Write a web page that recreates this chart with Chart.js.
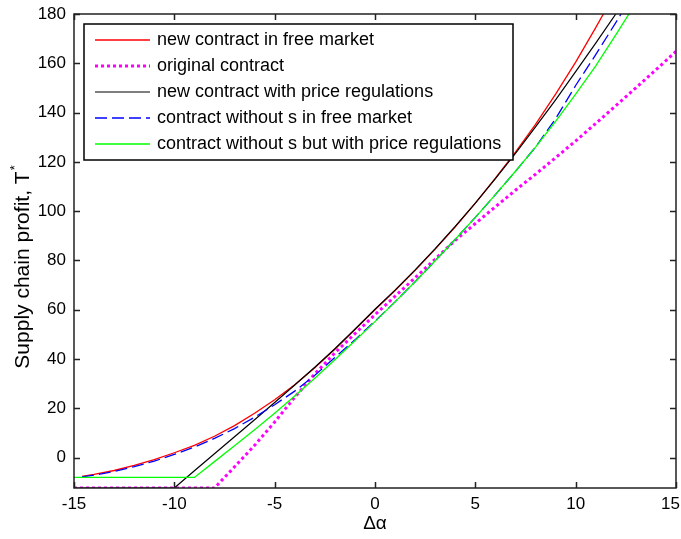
<!DOCTYPE html>
<html>
<head>
<meta charset="utf-8">
<script src="https://cdn.jsdelivr.net/npm/chart.js@4.4.0/dist/chart.umd.min.js"></script>
<style>
html, body { margin: 0; padding: 0; background: #fff; }
</style>
</head>
<body>
<canvas id="chart" width="681" height="539"></canvas>
<script>
// x positions (delta alpha)
var xValues = [-15, -14.6, -14, -13, -12, -11, -10, -9, -8, -7, -6, -5, -4, -3, -2, -1,
    0, 1, 2, 3, 4, 5, 6, 7, 8, 9, 10, 11, 12, 13, 14, 15];

var newFree = [null, -7.6, -6.8, -5.2, -3.1, -0.8, 2.0, 5.0, 8.7, 13.0, 18.0, 23.5, 29.6, 36.5, 44.0, 52.0,
    60.0, 67.8, 76.0, 84.6, 93.7, 103.3, 113.4, 124.0, 135.2, 147.5, 160.5, 174.5, 189.0, null, null, null];
var original = [-12.3, -12.3, -12.3, -12.3, -12.3, -12.3, -12.3, -12.3, -12.3, -3.7, 5.0, 14.5, 24.5, 34.0, 42.5, 50.3,
    58.0, 65.5, 73.0, 80.6, 88.2, 95.0, 101.8, 108.5, 115.0, 121.7, 128.5, 135.6, 142.8, 150.0, 157.4, 164.8];
var newRegulated = [-12.3, -12.3, -12.3, -12.3, -12.3, -12.3, -12.3, -5.3, 1.6, 8.5, 15.4, 22.4, 29.5, 36.7, 44.2, 52.1,
    60.2, 68.0, 76.2, 84.8, 93.8, 103.3, 113.2, 123.5, 134.2, 145.2, 156.6, 168.2, 180.0, 192.0, null, null];
var noSFree = [null, -7.8, -7.1, -5.6, -3.6, -1.4, 1.3, 4.3, 7.8, 11.8, 16.4, 21.5, 27.0, 33.4, 40.6, 47.8,
    55.4, 63.2, 71.4, 79.9, 88.6, 97.5, 106.7, 116.2, 126.0, 137.5, 151.0, 163.5, 176.5, 190.0, null, null];
var noSRegulated = [-8.0, -8.0, -8.0, -8.0, -8.0, -8.0, -8.0, -8.0, -1.6, 4.8, 11.3, 18.0, 25.0, 32.2, 39.7, 47.4,
    55.2, 63.2, 71.4, 79.9, 88.6, 97.5, 106.7, 116.2, 126.0, 136.4, 147.5, 159.0, 171.5, 184.5, null, null];

var xTicks = [-15, -10, -5, 0, 5, 10, 15];
var yTicks = [0, 20, 40, 60, 80, 100, 120, 140, 160, 180];
var yTitle = 'Supply chain profit, T';

function pts(ys) {
    return xValues.map(function(x, i) { return { x: x, y: ys[i] }; });
}

var font = "'Liberation Sans', Arial, Helvetica, sans-serif";

var seriesList = [
    { label: 'new contract in free market', data: newFree, color: '#ff0000', width: 1.3, dash: [] },
    { label: 'original contract', data: original, color: '#ff00ff', width: 3, dash: [3, 3] },
    { label: 'new contract with price regulations', data: newRegulated, color: '#000000', width: 1.2, dash: [] },
    { label: 'contract without s in free market', data: noSFree, color: '#0000ff', width: 1.3, dash: [12, 5] },
    { label: 'contract without s but with price regulations', data: noSRegulated, color: '#00ff00', width: 1.3, dash: [] }
];

// box, inward ticks, x tick labels, y label and the legend inside the plot
var framePlugin = {
    id: 'frame',
    afterDraw: function(chart) {
        var ctx = chart.ctx, a = chart.chartArea;
        var xs = chart.scales.x, ys = chart.scales.y;
        ctx.save();
        ctx.strokeStyle = '#222';
        ctx.lineWidth = 1.5;
        ctx.setLineDash([]);
        ctx.strokeRect(a.left, a.top, a.right - a.left, a.bottom - a.top);
        ctx.beginPath();
        xTicks.forEach(function(v) {
            var px = Math.round(xs.getPixelForValue(v)) + 0.5;
            ctx.moveTo(px, a.bottom); ctx.lineTo(px, a.bottom - 6);
            ctx.moveTo(px, a.top); ctx.lineTo(px, a.top + 6);
        });
        yTicks.forEach(function(v) {
            var py = Math.round(ys.getPixelForValue(v)) + 0.5;
            ctx.moveTo(a.left, py); ctx.lineTo(a.left + 6, py);
            ctx.moveTo(a.right, py); ctx.lineTo(a.right - 6, py);
        });
        ctx.stroke();

        // x tick labels, kept inside the canvas
        ctx.fillStyle = '#000';
        ctx.font = '17px ' + font;
        ctx.textBaseline = 'middle';
        ctx.textAlign = 'left';
        xTicks.forEach(function(v) {
            var t = String(v), tw = ctx.measureText(t).width;
            var px = xs.getPixelForValue(v) - tw / 2;
            if (px + tw > chart.width - 1) px = chart.width - 1 - tw;
            ctx.fillText(t, px, a.bottom + 16);
        });

        // y axis label with a small star on the T
        ctx.save();
        ctx.translate(23, 267);
        ctx.rotate(-Math.PI / 2);
        ctx.textBaseline = 'middle';
        ctx.font = '21px ' + font;
        var w = ctx.measureText(yTitle).width;
        ctx.fillText(yTitle, -w / 2 - 3, 0);
        ctx.font = '13px ' + font;
        ctx.fillText('*', w / 2 - 2, -8);
        ctx.restore();

        // legend
        var lx = a.left + 10, ly = a.top + 10, lw = 429, lh = 136;
        ctx.fillStyle = '#fff';
        ctx.fillRect(lx, ly, lw, lh);
        ctx.strokeStyle = '#000';
        ctx.lineWidth = 1.5;
        ctx.strokeRect(lx, ly, lw, lh);
        ctx.font = '18px ' + font;
        ctx.textBaseline = 'middle';
        ctx.textAlign = 'left';
        seriesList.forEach(function(s, i) {
            var y = ly + 16 + i * 26;
            ctx.beginPath();
            ctx.strokeStyle = s.color;
            ctx.lineWidth = s.width;
            ctx.setLineDash(s.dash);
            ctx.moveTo(lx + 11, y);
            ctx.lineTo(lx + 66, y);
            ctx.stroke();
            ctx.setLineDash([]);
            ctx.fillStyle = '#000';
            ctx.fillText(s.label, lx + 73, y);
        });
        ctx.restore();
    }
};

new Chart(document.getElementById('chart').getContext('2d'), {
    type: 'line',
    data: {
        datasets: seriesList.map(function(s, i) {
            return {
                label: s.label,
                data: pts(s.data),
                borderColor: s.color,
                borderWidth: s.width,
                borderDash: s.dash,
                pointRadius: 0,
                fill: false,
                tension: 0,
                clip: 0,
                order: seriesList.length - i
            };
        })
    },
    options: {
        responsive: false,
        animation: false,
        layout: { padding: { top: 14, right: 5, left: 0, bottom: 0 } },
        plugins: {
            legend: { display: false },
            tooltip: { enabled: false }
        },
        scales: {
            x: {
                type: 'linear',
                min: -15,
                max: 15,
                afterBuildTicks: function(s) { s.ticks = xTicks.map(function(v) { return { value: v }; }); },
                afterFit: function(s) { s.height = 51; s.paddingLeft = 0; s.paddingRight = 0; },
                grid: { display: false, drawTicks: false },
                border: { display: false },
                ticks: { display: false },
                title: { display: true, text: 'Δα', color: '#000', font: { family: font, size: 19 }, padding: { top: 0, bottom: 4 } }
            },
            y: {
                type: 'linear',
                min: -12.3,
                max: 180,
                afterBuildTicks: function(s) { s.ticks = yTicks.map(function(v) { return { value: v }; }); },
                afterFit: function(s) { s.width = 74; s.paddingTop = 0; s.paddingBottom = 0; },
                grid: { display: false, drawTicks: false },
                border: { display: false },
                ticks: { color: '#000', font: { family: font, size: 17 }, padding: 8 }
            }
        }
    },
    plugins: [framePlugin]
});
</script>
</body>
</html>
